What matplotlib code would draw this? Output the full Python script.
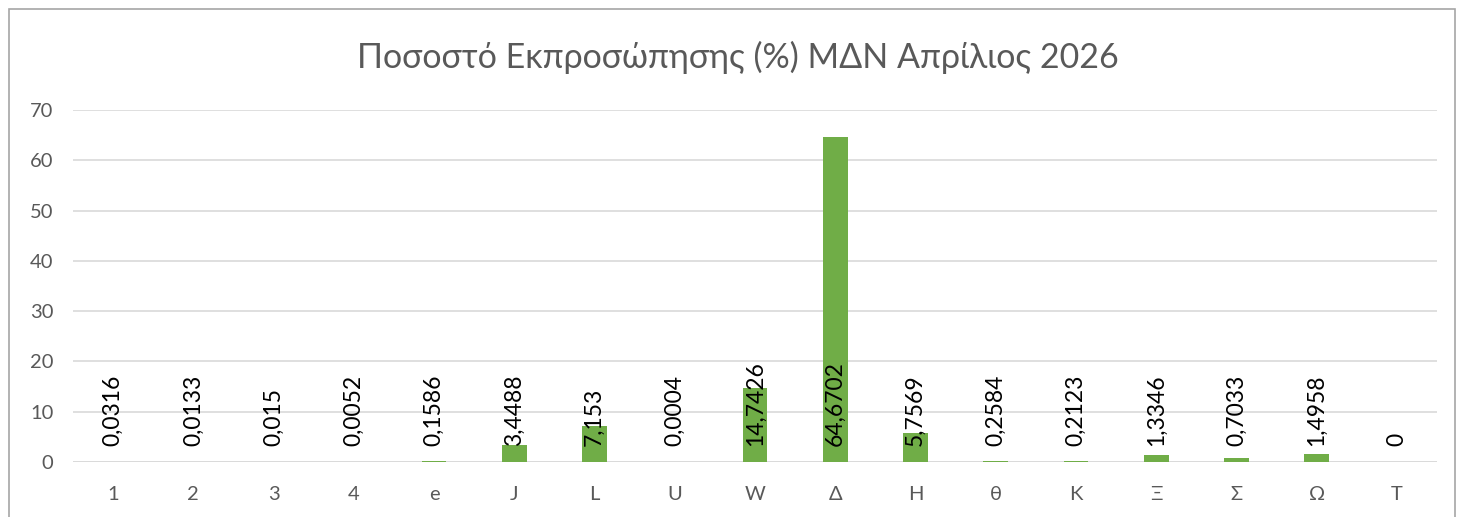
import numpy as np
import matplotlib.pyplot as plt
from matplotlib.patches import Rectangle

# Κατηγορίες και τιμές
categories = ['1', '2', '3', '4', 'e', 'J', 'L', 'U', 'W', 'Δ', 'Η', 'θ', 'Κ', 'Ξ', 'Σ', 'Ω', 'Τ']
values = [0.0316, 0.0133, 0.015, 0.0052, 0.1586, 3.4488, 7.153, 0.0004, 14.7426,
          64.6702, 5.7569, 0.2584, 0.2123, 1.3346, 0.7033, 1.4958, 0]
labels = ['0,0316', '0,0133', '0,015', '0,0052', '0,1586', '3,4488', '7,153', '0,0004',
          '14,7426', '64,6702', '5,7569', '0,2584', '0,2123', '1,3346', '0,7033', '1,4958', '0']
yticks = [0, 10, 20, 30, 40, 50, 60, 70]

plt.rcParams['font.family'] = ['Lato', 'DejaVu Sans']

W, H = 1462, 517
fig = plt.figure(figsize=(W / 100, H / 100), dpi=100)
ax = fig.add_axes([73 / W, 1 - 462 / H, (1437 - 73) / W, (462 - 110) / H])

x = np.arange(len(categories))
ax.bar(x, values, width=0.31, color='#70AD47', zorder=2)

# Ετικέτες δεδομένων
for xi, lab in zip(x, labels):
    ax.annotate(lab, (xi, 0), xytext=(0, 16), textcoords='offset pixels',
                rotation=90, ha='center', va='bottom', fontsize=16.5, color='black', zorder=3)

ax.set_xlim(-0.5, len(categories) - 0.5)
ax.set_ylim(0, 70)
ax.set_yticks(yticks)
ax.set_xticks(x)
ax.set_xticklabels(categories)
ax.grid(axis='y', color='#D9D9D9', linewidth=1.2, zorder=0)
ax.tick_params(axis='both', length=0, labelsize=14.5, labelcolor='#595959')
ax.tick_params(axis='x', pad=17)
ax.tick_params(axis='y', pad=14)
for s in ax.spines.values():
    s.set_visible(False)
ax.axhline(0, color='#D9D9D9', linewidth=1.2, zorder=1)

fig.text(738 / W, 1 - 57 / H, 'Ποσοστό Εκπροσώπησης (%) ΜΔΝ Απρίλιος 2026',
         ha='center', va='center', fontsize=24.5, color='#595959')

# Πλαίσιο γραφήματος
fig.patches.append(Rectangle((9 / W, -0.1), (1455 - 9) / W, 1.1 - 9 / H, transform=fig.transFigure,
                             fill=False, edgecolor='#A6A6A6', linewidth=1.2))

fig.savefig('out.png', dpi=100)
